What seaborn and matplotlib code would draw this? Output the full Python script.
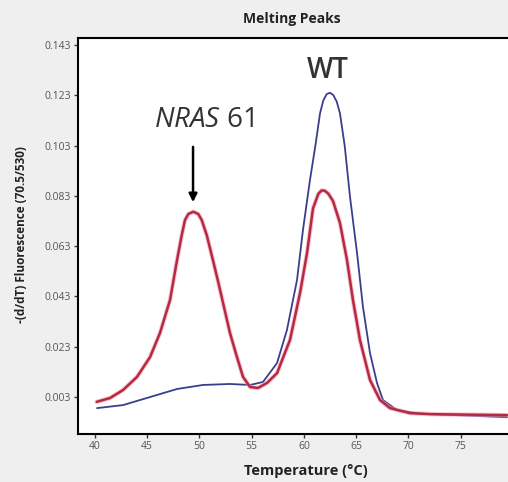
import matplotlib
matplotlib.use("Agg")
import matplotlib.pyplot as plt
import seaborn as sns
import pandas as pd

# ---- data ----
red_temp = [40.19, 41.46, 42.71, 44.04, 45.29, 46.24, 47.20, 47.84, 48.32, 48.63,
            48.95, 49.43, 49.90, 50.23, 50.71, 51.34, 51.85, 52.27, 52.93, 53.60,
            54.18, 54.85, 55.61, 56.47, 57.43, 58.67, 59.63, 60.30, 60.87, 61.38,
            61.70, 62.02, 62.35, 62.78, 63.45, 64.12, 64.69, 65.36, 66.32, 67.28,
            68.23, 70.14, 72.06, 79.42]
red_vals = [0.0011, 0.0026, 0.0058, 0.0110, 0.0189, 0.0285, 0.0416, 0.0568, 0.0674, 0.0734,
            0.0758, 0.0767, 0.0758, 0.0734, 0.0674, 0.0568, 0.0480, 0.0404, 0.0285, 0.0189,
            0.0110, 0.0070, 0.0066, 0.0086, 0.0125, 0.0257, 0.0444, 0.0603, 0.0780, 0.0838,
            0.0852, 0.0850, 0.0838, 0.0810, 0.0722, 0.0575, 0.0416, 0.0257, 0.0098, 0.0018,
            -0.0014, -0.0034, -0.0038, -0.0042]

blue_temp = [40.22, 42.71, 45.29, 47.87, 50.35, 52.93, 54.85, 56.09, 57.43, 58.38,
             59.34, 59.91, 60.58, 61.10, 61.54, 61.85, 62.18, 62.50, 62.81, 63.14,
             63.45, 63.90, 64.41, 65.08, 65.65, 66.32, 66.99, 67.56, 68.90, 70.81,
             72.06, 79.42]
blue_vals = [-0.0014, -0.0002, 0.0030, 0.0062, 0.0078, 0.0082, 0.0078, 0.0090, 0.0165, 0.0297,
             0.0495, 0.0694, 0.0893, 0.1030, 0.1158, 0.1209, 0.1235, 0.1240, 0.1231, 0.1205,
             0.1158, 0.1030, 0.0826, 0.0603, 0.0388, 0.0205, 0.0086, 0.0018, -0.0022, -0.0034,
             -0.0038, -0.0050]

x_ticks = [40, 45, 50, 55, 60, 65, 70, 75, 80]
y_ticks = [0.003, 0.023, 0.043, 0.063, 0.083, 0.103, 0.123, 0.143]
y_tick_labels = ["0.003", "0.023", "0.043", "0.063", "0.083", "0.103", "0.123", "0.143"]

title = "Melting Peaks"
xlabel = "Temperature (°C)"
ylabel = "-(d/dT) Fluorescence (70.5/530)"

# ---- plot ----
sns.set_theme(style="white")
plt.rcParams["font.family"] = ["Open Sans", "DejaVu Sans"]
plt.rcParams["mathtext.fontset"] = "custom"
plt.rcParams["mathtext.it"] = "Open Sans:italic"
plt.rcParams["mathtext.rm"] = "Open Sans"

fig = plt.figure(figsize=(5.08, 4.82), dpi=100, facecolor="#efefef")
ax = fig.add_axes([78 / 508, 48 / 482, (514 - 78) / 508, (434 - 38) / 482])
ax.set_facecolor("white")

df_blue = pd.DataFrame({"T": blue_temp, "v": blue_vals})
df_red = pd.DataFrame({"T": red_temp, "v": red_vals})
sns.lineplot(data=df_blue, x="T", y="v", color="#3b3e8c", lw=1.3, ax=ax,
             solid_joinstyle="round")
sns.lineplot(data=df_red, x="T", y="v", color="#f2a0b0", lw=3.2, alpha=0.6, ax=ax,
             solid_joinstyle="round")
sns.lineplot(data=df_red, x="T", y="v", color="#b52a42", lw=1.8, ax=ax,
             solid_joinstyle="round")

ax.set_xlim(38.40, 80.09)
ax.set_ylim(-0.0117, 0.1458)
ax.set_xticks(x_ticks)
ax.set_xticklabels([str(t) for t in x_ticks])
ax.set_yticks(y_ticks)
ax.set_yticklabels(y_tick_labels)
ax.tick_params(axis="both", direction="out", length=3, width=1, color="#333333",
               labelsize=7.5, labelcolor="#555555", pad=2)
ax.tick_params(left=True, bottom=True)
ax.set_xlabel("")
ax.set_ylabel("")

for side in ["left", "bottom", "top", "right"]:
    ax.spines[side].set_color("black")
    ax.spines[side].set_linewidth(1.5)

# annotations
ax.text(62.3, 0.133, "WT", ha="center", va="center", fontsize=20,
        color="#333333", fontweight="semibold")
ax.text(50.4, 0.1132, r"$\mathit{NRAS}$ 61", ha="center", va="center", fontsize=20,
        color="#333333")
ax.annotate("", xy=(49.4, 0.0805), xytext=(49.4, 0.1025),
            arrowprops=dict(arrowstyle="-|>", color="black", lw=1.8,
                            mutation_scale=12, shrinkA=0, shrinkB=0))

fig.text(292 / 508, 1 - 19 / 482, title, ha="center", va="center",
         fontsize=10, fontweight="bold", color="#222222")
fig.text(306 / 508, 1 - 471 / 482, xlabel, ha="center", va="center",
         fontsize=10.5, fontweight="bold", color="#222222")
fig.text(22 / 508, 1 - 235 / 482, ylabel, ha="center", va="center", rotation=90,
         fontsize=8.5, fontweight="bold", color="#222222")

fig.savefig("out.png", dpi=100, facecolor=fig.get_facecolor())
